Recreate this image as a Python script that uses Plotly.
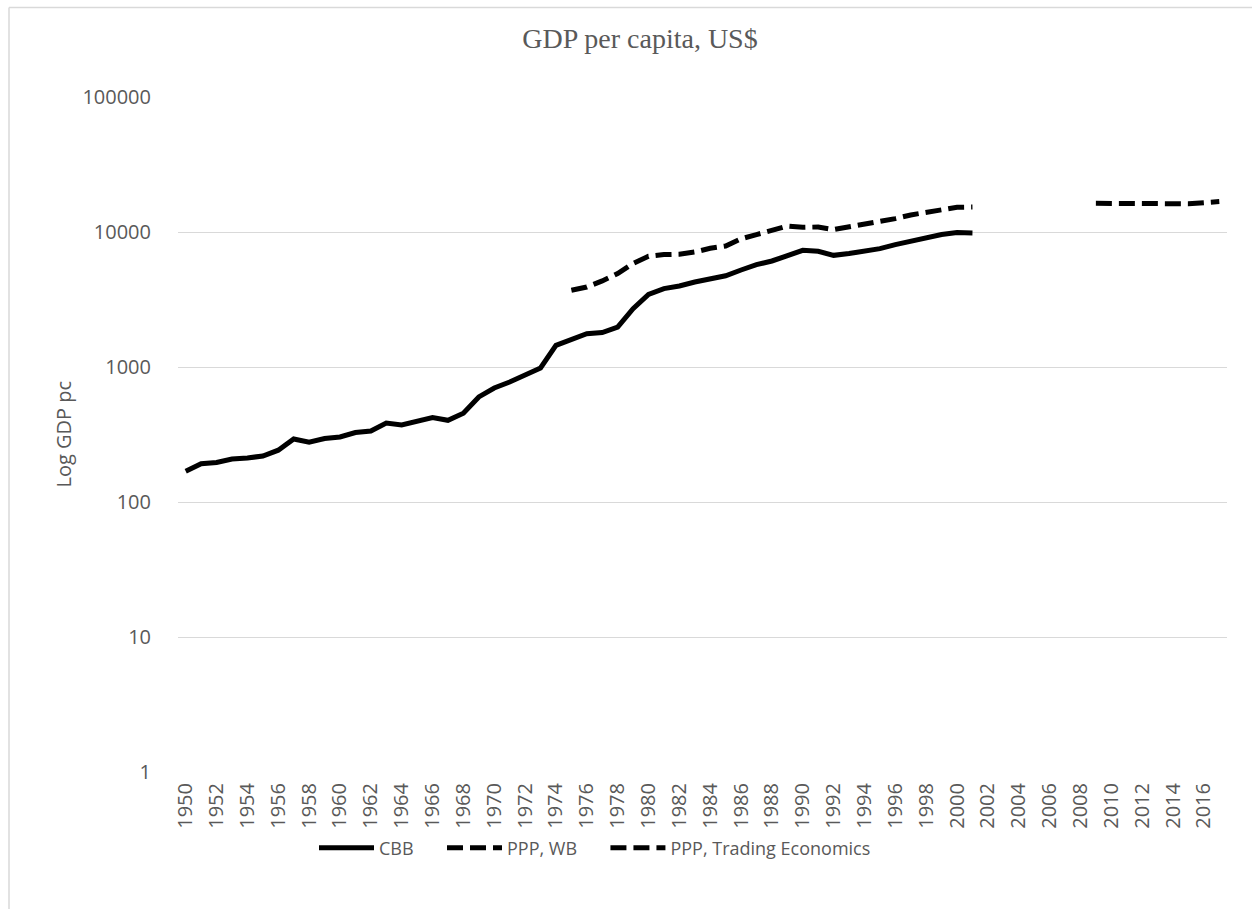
import plotly.graph_objects as go

# GDP per capita, US$ (log scale)
cbb_years = list(range(1950, 2002))
cbb_values = [
    169, 192, 196, 208, 212, 219, 242, 293, 277, 295,
    303, 327, 336, 385, 372, 396, 422, 403, 454, 600,
    699, 774, 868, 984, 1448, 1604, 1766, 1798, 1978, 2705,
    3455, 3810, 3985, 4265, 4520, 4740, 5230, 5730, 6100, 6715,
    7310, 7190, 6715, 6920, 7190, 7530, 8070, 8540, 9190, 9570,
    9900, 9840,
]

wb_years = list(range(1975, 2002))
wb_values = [
    3700, 3915, 4340, 4920, 5840, 6610, 6800, 6835, 7110, 7570,
    7880, 8900, 9570, 10300, 11080, 10830, 10890, 10420, 10890, 11400,
    12000, 12570, 13370, 14000, 14660, 15250, 15310,
]

te_years = list(range(2009, 2018))
te_values = [16300, 16300, 16300, 16300, 16250, 16100, 16200, 16500, 16800]

y_ticks = [1, 10, 100, 1000, 10000, 100000]
x_ticks = list(range(1950, 2017, 2))

grey_text = "#595959"
grid_grey = "#d9d9d9"
body_font = "Open Sans"
gap = "\u00a0" * 5

fig = go.Figure()
fig.add_trace(go.Scatter(
    x=cbb_years, y=cbb_values, name="CBB" + gap, mode="lines",
    line=dict(color="black", width=5),
))
fig.add_trace(go.Scatter(
    x=wb_years, y=wb_values, name="PPP, WB" + gap, mode="lines",
    line=dict(color="black", width=5, dash="16px,7px"),
))
fig.add_trace(go.Scatter(
    x=te_years, y=te_values, name="PPP, Trading Economics", mode="lines",
    line=dict(color="black", width=5, dash="16px,7px"),
))

fig.update_layout(
    width=1252, height=909,
    margin=dict(l=178, r=25, t=97, b=137),
    paper_bgcolor="white", plot_bgcolor="white",
    title=dict(
        text="GDP per capita, US$",
        x=640 / 1252, xanchor="center", xref="container",
        y=1 - 38 / 909, yanchor="middle", yref="container",
        font=dict(family="Liberation Serif", size=28, color=grey_text),
    ),
    xaxis=dict(
        range=[1949.5, 2017.5],
        tickvals=x_ticks, ticktext=[str(v) for v in x_ticks],
        tickangle=-90,
        showgrid=False, zeroline=False, showline=False,
        ticks="", ticklabelstandoff=6,
        tickfont=dict(family=body_font, size=20, color=grey_text),
    ),
    yaxis=dict(
        type="log", range=[0, 5],
        tickvals=y_ticks, ticktext=[str(v) for v in y_ticks],
        showgrid=True, gridcolor=grid_grey, gridwidth=1.3,
        zeroline=False, showline=False, ticks="",
        ticklabelstandoff=26,
        tickfont=dict(family=body_font, size=20, color=grey_text),
    ),
    legend=dict(
        orientation="h", x=(595 - 178) / 1049, xanchor="center",
        y=(772 - 848) / 675, yanchor="middle",
        font=dict(family=body_font, size=18, color=grey_text),
        itemwidth=55, traceorder="normal",
    ),
    showlegend=True,
)

# y-axis title
fig.add_annotation(
    text="Log GDP pc", textangle=-90,
    xref="paper", yref="paper",
    x=(63 - 178) / 1049, y=0.5, xanchor="center", yanchor="middle",
    showarrow=False,
    font=dict(family=body_font, size=20, color=grey_text),
)

# chart-area border (top and left edges)
fig.add_shape(type="line", xref="paper", yref="paper",
              x0=(9 - 178) / 1049, x1=(1252 - 178) / 1049,
              y0=(772 - 7.5) / 675, y1=(772 - 7.5) / 675,
              line=dict(color=grid_grey, width=1.5))
fig.add_shape(type="line", xref="paper", yref="paper",
              x0=(9 - 178) / 1049, x1=(9 - 178) / 1049,
              y0=(772 - 7.5) / 675, y1=(772 - 909) / 675,
              line=dict(color=grid_grey, width=1.5))

fig.write_html("out.html")
